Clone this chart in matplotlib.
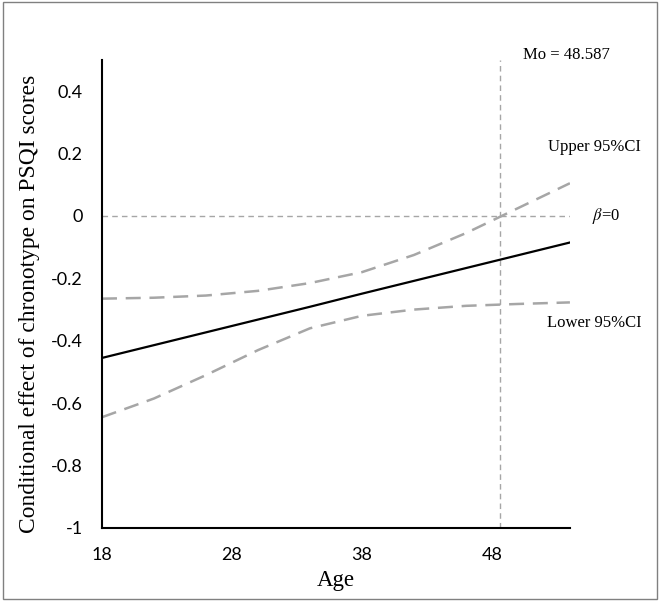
import matplotlib
matplotlib.use("Agg")
import matplotlib.pyplot as plt
from matplotlib.patches import Rectangle

plt.rcParams['mathtext.fontset'] = 'stix'

# values
age_pts = [18, 22, 26, 30, 34, 38, 42, 46, 50, 54]
effect = [-0.455, -0.414, -0.373, -0.332, -0.291, -0.249, -0.208, -0.167, -0.126, -0.085]
upper_ci = [-0.265, -0.262, -0.255, -0.24, -0.215, -0.18, -0.125, -0.055, 0.025, 0.105]
lower_ci = [-0.645, -0.585, -0.51, -0.43, -0.36, -0.32, -0.3, -0.288, -0.282, -0.277]
mo_value = 48.587
x_ticks = [18, 28, 38, 48]
y_ticks = [-1, -0.8, -0.6, -0.4, -0.2, 0, 0.2, 0.4]
y_ticklabels = ['-1', '-0.8', '-0.6', '-0.4', '-0.2', '0', '0.2', '0.4']

fig = plt.figure(figsize=(6.6, 6.01), dpi=100)
ax = fig.add_axes([0.1545, 0.1215, 0.709, 0.7787])

gray = '#a6a6a6'
ax.axhline(0, color=gray, lw=1, ls=(0, (4, 3)), zorder=1)
ax.axvline(mo_value, color=gray, lw=1, ls=(0, (4, 3)), zorder=1)
ax.plot(age_pts, upper_ci, color=gray, lw=1.8, ls=(0, (6, 3.5)), zorder=2)
ax.plot(age_pts, lower_ci, color=gray, lw=1.8, ls=(0, (6, 3.5)), zorder=2)
ax.plot(age_pts, effect, color='black', lw=1.6, zorder=3)

ax.set_xlim(18, 54)
ax.set_ylim(-1, 0.5)
ax.set_xticks(x_ticks)
ax.set_xticklabels([str(t) for t in x_ticks], family='Lato', fontsize=13)
ax.set_yticks(y_ticks)
ax.set_yticklabels(y_ticklabels, family='Lato', fontsize=13)
ax.tick_params(length=0)
ax.tick_params(axis='y', pad=14)
ax.tick_params(axis='x', pad=14)

for s in ['top', 'right']:
    ax.spines[s].set_visible(False)
for s in ['left', 'bottom']:
    ax.spines[s].set_linewidth(1.5)

ax.set_xlabel('Age', family='Liberation Serif', fontsize=16.5)
ax.set_ylabel('Conditional effect of chronotype on PSQI scores', family='Liberation Serif', fontsize=16.9)
ax.xaxis.set_label_coords(0.5, -0.09)
ax.yaxis.set_label_coords(-0.132, 0.479)

tfont = dict(family='Liberation Serif', fontsize=12, ha='center', va='center')
ax.text(53.7, 0.516, 'Mo = 48.587', clip_on=False, **tfont)
ax.text(55.9, 0.22, 'Upper 95%CI', clip_on=False, **tfont)
ax.text(56.8, 0.0, r'$\beta$=0', clip_on=False, **tfont)
ax.text(55.9, -0.343, 'Lower 95%CI', clip_on=False, **tfont)

fig.patches.append(Rectangle((0.004, 0.003), 0.991, 0.994, transform=fig.transFigure,
                             fill=False, edgecolor='#808080', lw=1))

fig.savefig('out.png', dpi=100)
